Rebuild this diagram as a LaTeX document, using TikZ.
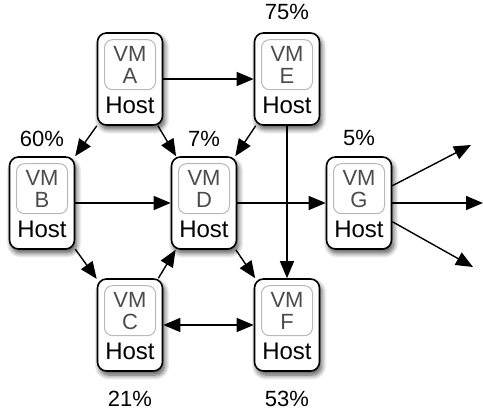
\documentclass[tikz,border=0pt]{standalone}
\usepackage{fontspec}
\setmainfont{Liberation Sans}
\usepackage{tikz}
\usetikzlibrary{positioning,arrows.meta,shadows.blur}

\begin{document}
\begin{tikzpicture}[x=1pt, y=-1pt,
        font=\fontsize{22}{22}\selectfont,
        every text node part/.style={align=center},
        host/.style={draw, line width=1.6pt, rounded corners=9pt, fill=white,
            minimum width=65pt, minimum height=92pt, inner sep=0pt,
            blur shadow={shadow xshift=2pt, shadow yshift=-4pt, shadow blur steps=8, shadow blur radius=5pt, shadow opacity=70}},
        vm/.style={draw=gray!55, line width=1pt, rounded corners=8pt, text=black!70,
            minimum width=51pt, minimum height=50pt, inner sep=0pt},
        hostname/.style={inner sep=0pt, font=\fontsize{24}{24}\selectfont},
        pct/.style={inner sep=0pt},
        link/.style={line width=1.4pt, -{Triangle[length=17pt, width=14pt]}},
        twoway/.style={line width=1.4pt, {Triangle[length=17pt, width=14pt]}-{Triangle[length=17pt, width=14pt]}}]
            \useasboundingbox (0, 0) rectangle (483, 411);

            % hosts with their load
            \node[host, label={[pct, yshift=12pt]above:75\%}] (e) at (287, 79) {};
            \node[host] (a) at (130, 79) {};
            \node[host, label={[pct, yshift=9pt]above:60\%}] (b) at (42, 203) {};
            \node[host, label={[pct, yshift=9pt]above:7\%}] (d) at (204, 203) {};
            \node[host, label={[pct, yshift=10pt]above:5\%}] (g) at (359, 203) {};
            \node[host, label={[pct, yshift=-19pt]below:21\%}] (c) at (130, 325) {};
            \node[host, label={[pct, yshift=-19pt]below:53\%}] (f) at (287, 325) {};

            \node[vm, below=7pt of a.north] (vma) {VM\\A};
            \node[vm, below=7pt of b.north] (vmb) {VM\\B};
            \node[vm, below=7pt of c.north] (vmc) {VM\\C};
            \node[vm, below=7pt of d.north] (vmd) {VM\\D};
            \node[vm, below=7pt of e.north] (vme) {VM\\E};
            \node[vm, below=7pt of f.north] (vmf) {VM\\F};
            \node[vm, below=7pt of g.north] (vmg) {VM\\G};

            \node[hostname, above=12pt of a.south] (ha) {Host};
            \node[hostname, above=12pt of b.south] (hb) {Host};
            \node[hostname, above=12pt of c.south] (hc) {Host};
            \node[hostname, above=12pt of d.south] (hd) {Host};
            \node[hostname, above=12pt of e.south] (he) {Host};
            \node[hostname, above=12pt of f.south] (hf) {Host};
            \node[hostname, above=12pt of g.south] (hg) {Host};

            % migrations
            \draw[link] (a) -- (e);
            \draw[link] (a) -- (b);
            \draw[link] (a) -- (d);
            \draw[link] (e) -- (d);
            \draw[link] (e) -- (f);
            \draw[link] (b) -- (d);
            \draw[link] (b) -- (c);
            \draw[link] (c) -- (d);
            \draw[link] (d) -- (g);
            \draw[link] (d) -- (f);
            \draw[twoway] (c) -- (f);

            \coordinate (o1) at (471, 145);
            \coordinate (o2) at (483, 203);
            \coordinate (o3) at (473, 267);
            \draw[link] (g) -- (o1);
            \draw[link] (g) -- (o2);
            \draw[link] (g) -- (o3);
        \end{tikzpicture}
\end{document}
